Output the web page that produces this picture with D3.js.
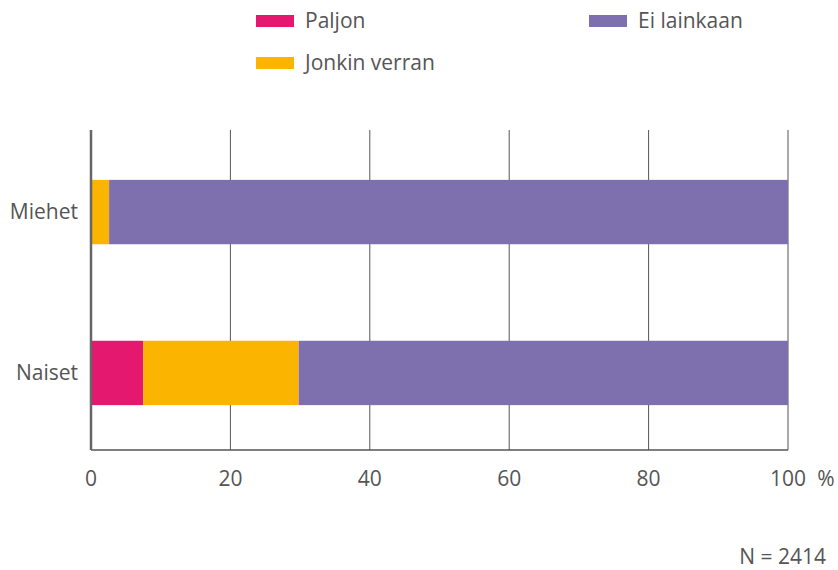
<!DOCTYPE html>
<html>
<head>
<meta charset="utf-8">
<script src="https://cdn.jsdelivr.net/npm/d3@7"></script>
<style>
body { margin: 0; background: #fff; }
text { font-family: "Open Sans", "Noto Sans", sans-serif; fill: #555; }
</style>
</head>
<body>
<svg width="838" height="570"></svg>
<script>
var categories = ["Miehet", "Naiset"];
var seriesNames = ["Paljon", "Jonkin verran", "Ei lainkaan"];
var paljon = [0, 7.5];
var jonkinVerran = [2.6, 22.3];
var eiLainkaan = [97.4, 70.2];
var ticks = [0, 20, 40, 60, 80, 100];
var colors = ["#e5186f", "#fbb400", "#7e6faf"];

var svg = d3.select("svg"),
    margin = {top: 130, right: 50, bottom: 120, left: 91},
    g = svg.append("g").attr("transform", "translate(" + margin.left + "," + margin.top + ")");

var x = d3.scaleLinear().domain([0, 100]).range([0, 697]);
var y = d3.scaleBand().domain(categories).range([0, 325]).paddingInner(0.6).paddingOuter(0.31);

// rows for the stack
var rows = categories.map(function(c, i) {
    return {cat: c, "Paljon": paljon[i], "Jonkin verran": jonkinVerran[i], "Ei lainkaan": eiLainkaan[i]};
});
var stacked = d3.stack().keys(seriesNames)(rows);

// grid lines
g.selectAll(".grid")
    .data(ticks.slice(1))
    .enter().append("line")
    .attr("x1", function(d) { return x(d); })
    .attr("x2", function(d) { return x(d); })
    .attr("y1", 0)
    .attr("y2", 320)
    .attr("stroke", "#555")
    .attr("stroke-width", 1);

g.selectAll(".layer")
    .data(stacked)
    .enter().append("g")
    .attr("fill", function(d, i) { return colors[i]; })
    .selectAll("rect")
    .data(function(d) { return d; })
    .enter().append("rect")
    .attr("x", function(d) { return x(d[0]); })
    .attr("width", function(d) { return x(d[1]) - x(d[0]); })
    .attr("y", function(d) { return y(d.data.cat); })
    .attr("height", y.bandwidth());

// axes
g.append("line").attr("x1", 0).attr("x2", 697).attr("y1", 320).attr("y2", 320)
    .attr("stroke", "#555").attr("stroke-width", 1.5);
g.append("line").attr("x1", 0).attr("x2", 0).attr("y1", 0).attr("y2", 320)
    .attr("stroke", "#666").attr("stroke-width", 2.5);

g.selectAll(".xlab")
    .data(ticks)
    .enter().append("text")
    .attr("x", function(d) { return x(d); })
    .attr("y", 356)
    .attr("text-anchor", "middle")
    .style("font-size", "21px")
    .text(function(d) { return d; });

g.append("text").attr("x", x(100) + 38).attr("y", 356).attr("text-anchor", "middle")
    .style("font-size", "21px").text("%");

g.selectAll(".ylab")
    .data(categories)
    .enter().append("text")
    .attr("x", -13)
    .attr("y", function(d) { return y(d) + y.bandwidth() / 2 + 7; })
    .attr("text-anchor", "end")
    .style("font-size", "21px")
    .text(function(d) { return d; });

svg.append("text").attr("x", 826).attr("y", 564).attr("text-anchor", "end")
    .style("font-size", "21px").text("N = 2414");

// legend
var legendPos = [[256, 15], [256, 57], [589, 15]];
var leg = svg.selectAll(".leg")
    .data(seriesNames)
    .enter().append("g")
    .attr("transform", function(d, i) { return "translate(" + legendPos[i][0] + "," + legendPos[i][1] + ")"; });
leg.append("rect").attr("width", 38).attr("height", 12)
    .attr("fill", function(d, i) { return colors[i]; });
leg.append("text").attr("x", 49).attr("y", 13)
    .style("font-size", "21px")
    .text(function(d) { return d; });
</script>
</body>
</html>
